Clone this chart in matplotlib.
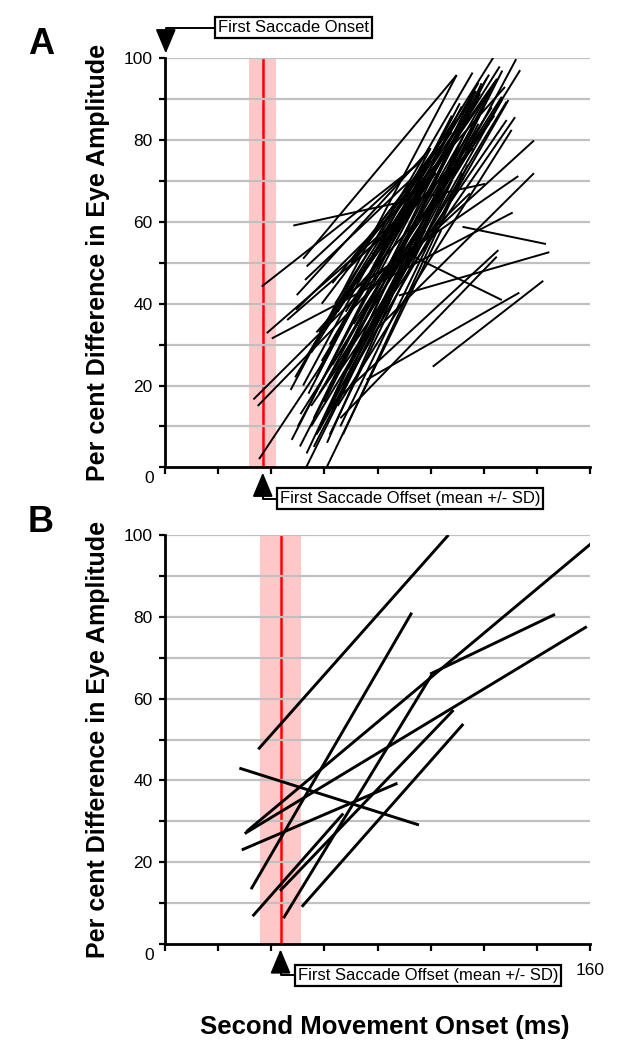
import matplotlib
matplotlib.use("Agg")
import matplotlib.pyplot as plt
import matplotlib.transforms as mtransforms
import numpy as np

plt.rcParams['font.family'] = ['Liberation Sans', 'DejaVu Sans']

# ---------------- data ----------------
# Panel A: each segment = (onset0, amp0) -> (onset1, amp1)
a_x0 = [47.3, 47.7, 50.8, 53.3, 53.3, 61.0, 53.3, 49.0, 51.0, 55.0, 57.0, 60.0, 58.0, 62.0, 55.0,
        65.0, 63.0, 56.0, 60.0, 66.0, 52.0, 58.0, 64.0, 68.0, 70.0, 72.0, 50.0, 56.0, 62.0, 66.0,
        74.0, 70.0, 76.0, 59.0, 63.0,
        56.0, 58.0, 60.0, 61.0, 64.0, 67.0, 59.0, 62.0, 69.0, 54.0, 57.0, 65.0, 71.0, 73.0, 60.0,
        63.0, 67.0, 55.0, 64.0, 58.0,
        48.3, 40.2, 75.9, 100.8, 88.0, 112.0, 92.0, 62.0, 66.0, 80.0, 85.0, 70.0, 80.0,
        36.4, 38.3, 33.3, 34.9, 35.4, 49.6, 49.3, 52.0, 53.3, 52.7, 46.0, 57.0, 68.0, 78.0]
a_y0 = [18.9, 6.7, 5.1, 3.4, 0.2, 0.2, 27.1, 22.0, 13.0, 10.0, 8.0, 12.0, 18.0, 20.0, 15.0,
        15.0, 25.0, 30.0, 35.0, 28.0, 20.0, 24.0, 32.0, 38.0, 30.0, 45.0, 10.0, 5.0, 8.0, 10.0,
        40.0, 50.0, 55.0, 40.0, 45.0,
        12.0, 9.0, 16.0, 6.0, 18.0, 20.0, 26.0, 30.0, 24.0, 18.0, 22.0, 38.0, 35.0, 28.0, 20.0,
        14.0, 8.0, 28.0, 40.0, 33.0,
        59.1, 31.5, 21.4, 24.6, 42.0, 58.8, 52.0, 15.0, 12.0, 34.0, 48.0, 43.0, 45.0,
        44.2, 32.8, 16.6, 15.0, 2.0, 42.1, 38.5, 51.0, 49.1, 45.8, 36.0, 33.0, 48.0, 52.0]
a_x1 = [109.8, 111.7, 118.6, 119.2, 120.0, 104.0, 123.6, 115.8, 126.8, 128.6, 129.3, 132.2, 133.7, 131.8, 128.6,
        130.5, 119.9, 112.0, 125.0, 122.0, 100.0, 105.0, 118.0, 126.0, 115.0, 120.0, 95.0, 98.0, 108.0, 112.0,
        124.0, 110.0, 128.0, 100.0, 108.0,
        115.0, 117.0, 121.0, 113.0, 124.0, 127.0, 116.0, 122.0, 118.0, 108.0, 111.0, 117.0, 123.0, 127.0, 106.0,
        110.0, 114.0, 96.0, 104.0, 102.0,
        120.5, 130.9, 133.4, 142.4, 144.7, 143.4, 126.8, 125.5, 124.9, 138.9, 138.9, 133.0, 114.8,
        95.0, 90.0, 85.0, 95.0, 62.0, 100.0, 95.0, 109.8, 98.0, 92.0, 92.0, 100.0, 116.0, 122.0]
a_y1 = [95.9, 88.2, 91.4, 93.9, 88.0, 58.0, 100.2, 96.5, 90.6, 89.4, 89.8, 99.8, 97.1, 85.6, 84.9,
        82.5, 87.8, 85.0, 95.0, 92.0, 78.0, 82.0, 94.0, 98.0, 80.0, 90.0, 65.0, 58.0, 70.0, 72.0,
        86.0, 85.0, 93.0, 75.0, 82.0,
        90.0, 92.0, 95.0, 82.0, 94.0, 97.0, 88.0, 96.0, 84.0, 86.0, 89.0, 92.0, 88.0, 90.0, 76.0,
        78.0, 74.0, 70.0, 80.0, 72.0,
        69.3, 62.3, 42.7, 45.6, 52.6, 54.6, 40.9, 53.1, 51.5, 71.9, 79.9, 71.2, 67.0,
        74.0, 62.0, 50.0, 55.0, 28.0, 78.0, 68.0, 95.9, 76.0, 70.0, 62.0, 64.0, 78.0, 84.0]

# Panel B
b_x0 = [35.1, 32.4, 28.0, 30.7, 30.0, 28.9, 99.8, 44.6, 43.3, 33.0, 51.5]
b_y0 = [47.6, 13.4, 43.0, 27.5, 27.0, 23.0, 66.0, 6.3, 13.0, 6.8, 9.1]
b_x1 = [106.7, 92.9, 95.6, 160.6, 158.8, 87.5, 146.8, 100.4, 108.6, 67.1, 112.3]
b_y1 = [100.0, 81.0, 29.1, 98.0, 77.6, 39.3, 80.6, 65.8, 57.2, 31.9, 53.8]

# first saccade offset (mean, SD) in ms
offset_mean = [36.8, 43.5]
offset_sd = [5.1, 7.8]

x_ticks = list(range(0, 161, 20))
y_major = [20, 40, 60, 80, 100]
y_minor = list(range(0, 101, 10))

# ---------------- figure ----------------
W, H = 620, 1050
fig = plt.figure(figsize=(W / 100, H / 100), dpi=100)

def ax_rect(top_px, bottom_px, left_px=165, right_px=590):
    return [left_px / W, 1 - bottom_px / H, (right_px - left_px) / W, (bottom_px - top_px) / H]

axA = fig.add_axes(ax_rect(58.3, 467.3))
axB = fig.add_axes(ax_rect(535, 944))

def style(ax, k, x0, y0, x1, y1, lw):
    ax.set_xlim(0, 160)
    ax.set_ylim(0, 100)
    m, s = offset_mean[k], offset_sd[k]
    ax.axvspan(m - s, m + s, color='#ffc8c8', lw=0, zorder=0.5)
    for yv in y_minor[1:]:
        ax.axhline(yv, color='#c0c0c0', lw=1.6, zorder=1)
    ax.axvline(m, color='#ff0000', lw=1.8, zorder=0.8)
    for a, b, c, d in zip(x0, y0, x1, y1):
        ax.plot([a, c], [b, d], color='black', lw=lw, solid_capstyle='butt', zorder=3)
    for sp in ['top', 'right']:
        ax.spines[sp].set_visible(False)
    for sp in ['left', 'bottom']:
        ax.spines[sp].set_linewidth(2.0)
        ax.spines[sp].set_zorder(4)
    ax.set_xticks(x_ticks)
    ax.set_xticklabels([''] * len(x_ticks))
    ax.set_yticks(y_minor)
    ax.set_yticklabels([str(v) if v in y_major else '' for v in y_minor])
    ax.tick_params(axis='x', direction='out', length=5, width=1.6, pad=2)
    ax.tick_params(axis='y', direction='out', length=4, width=1.6, pad=5, labelsize=12.5)
    ax.text(-0.025, -0.028, '0', transform=ax.transAxes, ha='right', va='center', fontsize=12.5)
    ax.set_ylabel('Per cent Difference in Eye Amplitude', fontsize=18, fontweight='bold', labelpad=10)

    # offset arrow + box
    tr = mtransforms.blended_transform_factory(ax.transData, ax.transAxes)
    base = -0.066
    ax.annotate('', xy=(m, -0.013), xytext=(m, base), xycoords=tr, textcoords=tr,
                arrowprops=dict(arrowstyle='-|>,head_length=1.0,head_width=0.42', color='black',
                                lw=1.4, shrinkA=0, shrinkB=0, mutation_scale=15),
                annotation_clip=False)
    ax.plot([m, m, m + 6.4], [base, -0.077, -0.077], color='black', lw=1.4, transform=tr, clip_on=False)
    ax.text(m + 6.4, -0.077, 'First Saccade Offset (mean +/- SD)', transform=tr, ha='left', va='center',
            fontsize=12, bbox=dict(boxstyle='square,pad=0.18', fc='white', ec='black', lw=1.6), clip_on=False)

style(axA, 0, a_x0, a_y0, a_x1, a_y1, 1.4)
style(axB, 1, b_x0, b_y0, b_x1, b_y1, 2.1)

axB.text(1.0, -0.066, '160', transform=axB.transAxes, ha='center', va='center', fontsize=12.5)

# onset annotation on panel A
trA = mtransforms.blended_transform_factory(axA.transData, axA.transAxes)
axA.annotate('', xy=(0.3, 1.012), xytext=(0.3, 1.06), xycoords=trA, textcoords=trA,
             arrowprops=dict(arrowstyle='-|>,head_length=1.0,head_width=0.42', color='black',
                             lw=1.4, shrinkA=0, shrinkB=0, mutation_scale=15),
             annotation_clip=False)
axA.plot([0.3, 0.3, 20], [1.06, 1.075, 1.075], color='black', lw=1.4, transform=trA, clip_on=False)
axA.text(20, 1.075, 'First Saccade Onset', transform=trA, ha='left', va='center', fontsize=12,
         bbox=dict(boxstyle='square,pad=0.18', fc='white', ec='black', lw=1.6), clip_on=False)

# panel letters
fig.text(28 / W, 1 - 45 / H, 'A', fontsize=26, fontweight='bold', ha='left', va='center')
fig.text(28 / W, 1 - 522 / H, 'B', fontsize=26, fontweight='bold', ha='left', va='center')

fig.text(385 / W, 1 - 1027 / H, 'Second Movement Onset (ms)', fontsize=18.5, fontweight='bold',
         ha='center', va='center')

fig.savefig('out.png', dpi=100)
